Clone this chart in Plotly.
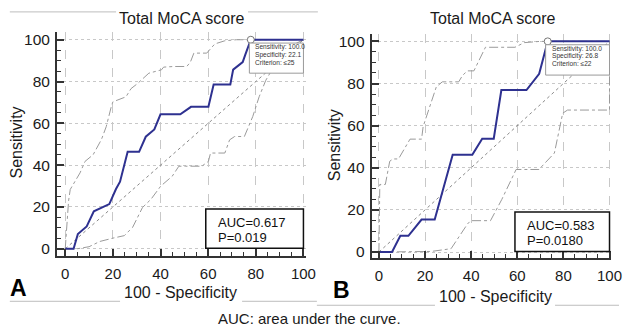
import plotly.graph_objects as go

W, H = 629, 335

# ---------------- data ----------------
tick_values = [0, 20, 40, 60, 80, 100]
tick_labels = ["0", "20", "40", "60", "80", "100"]

# Panel A : ROC curve of Total MoCA score
a_fpr = [0, 3.5, 5.3, 9.0, 12.0, 18.5, 21.3, 23.0, 26.2, 31.0, 33.8, 37.4, 40.0, 48.3,
         52.8, 60.1, 62.3, 69.3, 70.5, 74.5, 75.6, 76.6, 77.9, 100]
a_sens = [0, 0, 7.1, 10.7, 17.9, 21.4, 28.6, 32.1, 46.4, 46.4, 53.6, 57.1, 64.3, 64.3,
          67.9, 67.9, 78.6, 78.6, 85.7, 89.3, 92.9, 96.4, 100, 100]
a_upper_x = [0, 1.4, 2.1, 6.2, 8.3, 11.7, 15.2, 17.2, 19.3, 20.0, 25.5, 27.6, 30.3, 35.1,
             40.4, 41.3, 45.5, 51.0, 52.5, 54.0, 59.4, 62.8, 67.0, 71.8, 100]
a_upper_y = [0, 22.9, 28.4, 36.3, 41.8, 45.0, 52.3, 58.4, 67.9, 70.3, 72.7, 76.6, 79.0, 84.0,
             85.6, 86.9, 87.2, 87.2, 89.2, 93.6, 93.6, 98.0, 99.5, 100, 100]
a_lower_x = [0, 5, 10, 14.5, 20, 24.8, 28.3, 30.3, 32.4, 36, 40.1, 44.9, 47.7, 50.4, 57.3,
             60.1, 61, 67, 69, 71.1, 75.2, 78.7, 81.4, 84.2, 88, 93, 100]
a_lower_y = [0, 0, 1, 3.5, 5.1, 6.3, 10.3, 15, 19.7, 23.7, 30, 34.7, 39.5, 39.5, 39.5,
             41.8, 45.8, 45.8, 52.1, 53.7, 53.7, 63.2, 72.7, 80.6, 88, 96, 100]
a_crit_x, a_crit_y = [77.9], [100]
a_auc, a_p = "AUC=0.617", "P=0.019"
a_tip = ["Sensitivity: 100.0", "Specificity: 22.1", "Criterion: \u226425"]

# Panel B
b_fpr = [0, 5.7, 9.3, 12.8, 18.5, 24.2, 32.0, 40.5, 44.8, 49.8, 53.1, 64.0, 69.5, 73.2, 100]
b_sens = [0, 0, 7.7, 7.7, 15.4, 15.4, 46.2, 46.2, 53.8, 53.8, 76.9, 76.9, 84.6, 100, 100]
b_upper_x = [0, 0.4, 2.8, 4.7, 6.1, 8.5, 13.5, 18.5, 19.2, 24.9, 27.5, 34.6, 36.3, 38.4,
             41.2, 42.7, 46.2, 59.0, 63.0, 70.0, 100]
b_upper_y = [0, 32.1, 32.1, 43.1, 44.2, 44.2, 53.6, 53.6, 59.6, 78.4, 80.8, 80.8, 83.9, 86.0,
             86.0, 89.4, 97.2, 97.2, 99.4, 100, 100]
b_lower_x = [0, 20, 22.7, 31.3, 34.1, 38.4, 39.8, 48.4, 53.3, 58.0, 59.5, 69.4, 73.5, 76.1,
             79.7, 81.8, 100, 100]
b_lower_y = [0, 0, 0.3, 1.6, 6.3, 13.3, 14.9, 14.9, 25.0, 36.0, 39.2, 39.2, 44.0, 47.0,
             65.9, 67.4, 67.4, 100]
b_crit_x, b_crit_y = [73.2], [100]
b_auc, b_p = "AUC=0.583", "P=0.0180"
b_tip = ["Sensitivity: 100.0", "Specificity: 26.8", "Criterion: \u226422"]

diag = [0, 100]

title_text = "Total MoCA score"
xlab = "100 - Specificity"
ylab = "Sensitivity"
footer = "AUC: area under the curve."

# ---------------- styling ----------------
FONT = "Liberation Sans, Arial, sans-serif"
CURVE = "#2e3190"
BAND = "#9a9a9a"
AX = "#333333"
GRID = "#c8c8c8"


def px(x):
    return x / W


def py(y):
    return 1 - y / H


fig = go.Figure()

panels = [
    dict(xa="x", ya="y", fpr=a_fpr, sens=a_sens, ux=a_upper_x, uy=a_upper_y,
         lx=a_lower_x, ly=a_lower_y),
    dict(xa="x2", ya="y2", fpr=b_fpr, sens=b_sens, ux=b_upper_x, uy=b_upper_y,
         lx=b_lower_x, ly=b_lower_y),
]

for p in panels:
    fig.add_trace(go.Scatter(x=p["ux"], y=p["uy"], mode="lines", xaxis=p["xa"], yaxis=p["ya"],
                             line=dict(color=BAND, width=1, dash="dashdot"), hoverinfo="skip"))
    fig.add_trace(go.Scatter(x=p["lx"], y=p["ly"], mode="lines", xaxis=p["xa"], yaxis=p["ya"],
                             line=dict(color=BAND, width=1, dash="dashdot"), hoverinfo="skip"))
    fig.add_trace(go.Scatter(x=diag, y=diag, mode="lines", xaxis=p["xa"], yaxis=p["ya"],
                             line=dict(color="#8a8a8a", width=1, dash="dot"), hoverinfo="skip"))
    fig.add_trace(go.Scatter(x=p["fpr"], y=p["sens"], mode="lines", xaxis=p["xa"], yaxis=p["ya"],
                             line=dict(color=CURVE, width=2)))


def xaxis(domain, rng, anchor):
    return dict(domain=domain, range=rng, anchor=anchor, tickmode="array",
                tickvals=tick_values, ticktext=tick_labels,
                showline=True, linecolor=AX, linewidth=2,
                ticks="inside", ticklen=7, tickwidth=2, tickcolor=AX,
                minor=dict(tick0=0, dtick=5, ticks="inside", ticklen=4, tickwidth=1,
                           tickcolor=AX, showgrid=False),
                showgrid=True, gridcolor=GRID, gridwidth=1, griddash="dash",
                zeroline=False, ticklabelstandoff=3,
                tickfont=dict(family=FONT, size=15, color="#1a1a1a"))


def yaxis(domain, rng, anchor):
    return dict(domain=domain, range=rng, anchor=anchor, tickmode="array",
                tickvals=tick_values, ticktext=tick_labels,
                showline=True, linecolor=AX, linewidth=2,
                ticks="inside", ticklen=7, tickwidth=2, tickcolor=AX,
                minor=dict(tick0=0, dtick=5, ticks="inside", ticklen=4, tickwidth=1,
                           tickcolor=AX, showgrid=False),
                showgrid=True, gridcolor=GRID, gridwidth=1, griddash="dot",
                zeroline=False, ticklabelstandoff=2,
                tickfont=dict(family=FONT, size=15.5, color="#1a1a1a"))


fig.update_layout(
    width=W, height=H, autosize=False,
    margin=dict(l=0, r=0, t=0, b=0),
    paper_bgcolor="white", plot_bgcolor="white",
    showlegend=False,
    xaxis=xaxis([px(58), px(311)], [-3.43, 101.1], "y"),
    yaxis=yaxis([py(257), py(31.7)], [-3.3, 103.5], "x"),
    xaxis2=xaxis([px(377.7), px(621)], [-3.12, 100.7], "y2"),
    yaxis2=yaxis([py(259.5), py(33.3)], [-2.9, 103.5], "x2"),
)

shapes = []
annos = []

for xa, ya, auc, pv, tip, tipx0, tipx in [
    ("x", "y", a_auc, a_p, a_tip, 77.3, 79.2),
    ("x2", "y2", b_auc, b_p, b_tip, 72.3, 74.5),
]:
    # AUC box
    shapes.append(dict(type="rect", xref=xa, yref=ya, x0=59, x1=100, y0=0.3, y1=19,
                       line=dict(color="#111111", width=1.5), fillcolor="white", layer="above"))
    annos.append(dict(xref=xa, yref=ya, x=63.5, y=12.6, text=auc, showarrow=False,
                      xanchor="left", yanchor="middle", font=dict(family=FONT, size=13, color="#111")))
    annos.append(dict(xref=xa, yref=ya, x=63.5, y=5.6, text=pv, showarrow=False,
                      xanchor="left", yanchor="middle", font=dict(family=FONT, size=13, color="#111")))
    # tooltip box
    shapes.append(dict(type="rect", xref=xa, yref=ya, x0=tipx0, x1=100, y0=84.0, y1=98.4,
                       line=dict(color="#9a9a9a", width=1), fillcolor="white", layer="above"))
    for i, t in enumerate(tip):
        annos.append(dict(xref=xa, yref=ya, x=tipx, y=96.5 - 3.6 * i, text=t, showarrow=False,
                          xanchor="left", yanchor="middle", borderpad=0,
                          font=dict(family=FONT, size=6.6, color="#333")))

# criterion markers (drawn as traces on top)
fig.add_trace(go.Scatter(x=a_crit_x, y=a_crit_y, mode="markers", xaxis="x", yaxis="y",
                         marker=dict(size=7, color="white", line=dict(color="#777", width=1))))
fig.add_trace(go.Scatter(x=b_crit_x, y=b_crit_y, mode="markers", xaxis="x2", yaxis="y2",
                         marker=dict(size=7, color="white", line=dict(color="#777", width=1))))

# frame lines
LINE = dict(color="#bdbdbd", width=1)
for (x0, y0, x1, y1) in [(10, 11, 118, 11), (252, 11, 323, 11),
                         (10, 303, 122, 303), (246, 303, 322, 303),
                         (322, 307, 442, 307), (564, 307, 629, 307)]:
    shapes.append(dict(type="line", xref="paper", yref="paper", x0=px(x0), x1=px(x1),
                       y0=py(y0), y1=py(y1), line=LINE))


def txt(x, y, t, size, angle=0, bold=False, color="#1a1a1a"):
    return dict(xref="paper", yref="paper", x=px(x), y=py(y), text=(f"<b>{t}</b>" if bold else t),
                showarrow=False, xanchor="center", yanchor="middle", textangle=angle,
                font=dict(family=FONT, size=size, color=color))


annos += [
    txt(184, 18, title_text, 16),
    txt(500, 18, title_text, 16),
    txt(17, 143, ylab, 16, angle=-90),
    txt(340, 146, ylab, 16, angle=-90),
    txt(183, 294, xlab, 16),
    txt(503, 298, xlab, 16),
    txt(19, 290, "A", 23, bold=True, color="#000"),
    txt(347, 292, "B", 23, bold=True, color="#000"),
    txt(314, 320, footer, 15),
]

fig.update_layout(shapes=shapes, annotations=annos)

fig.write_html("out.html", config={"displayModeBar": False},
               post_script="document.body.style.margin='0';document.body.style.overflow='hidden';")
